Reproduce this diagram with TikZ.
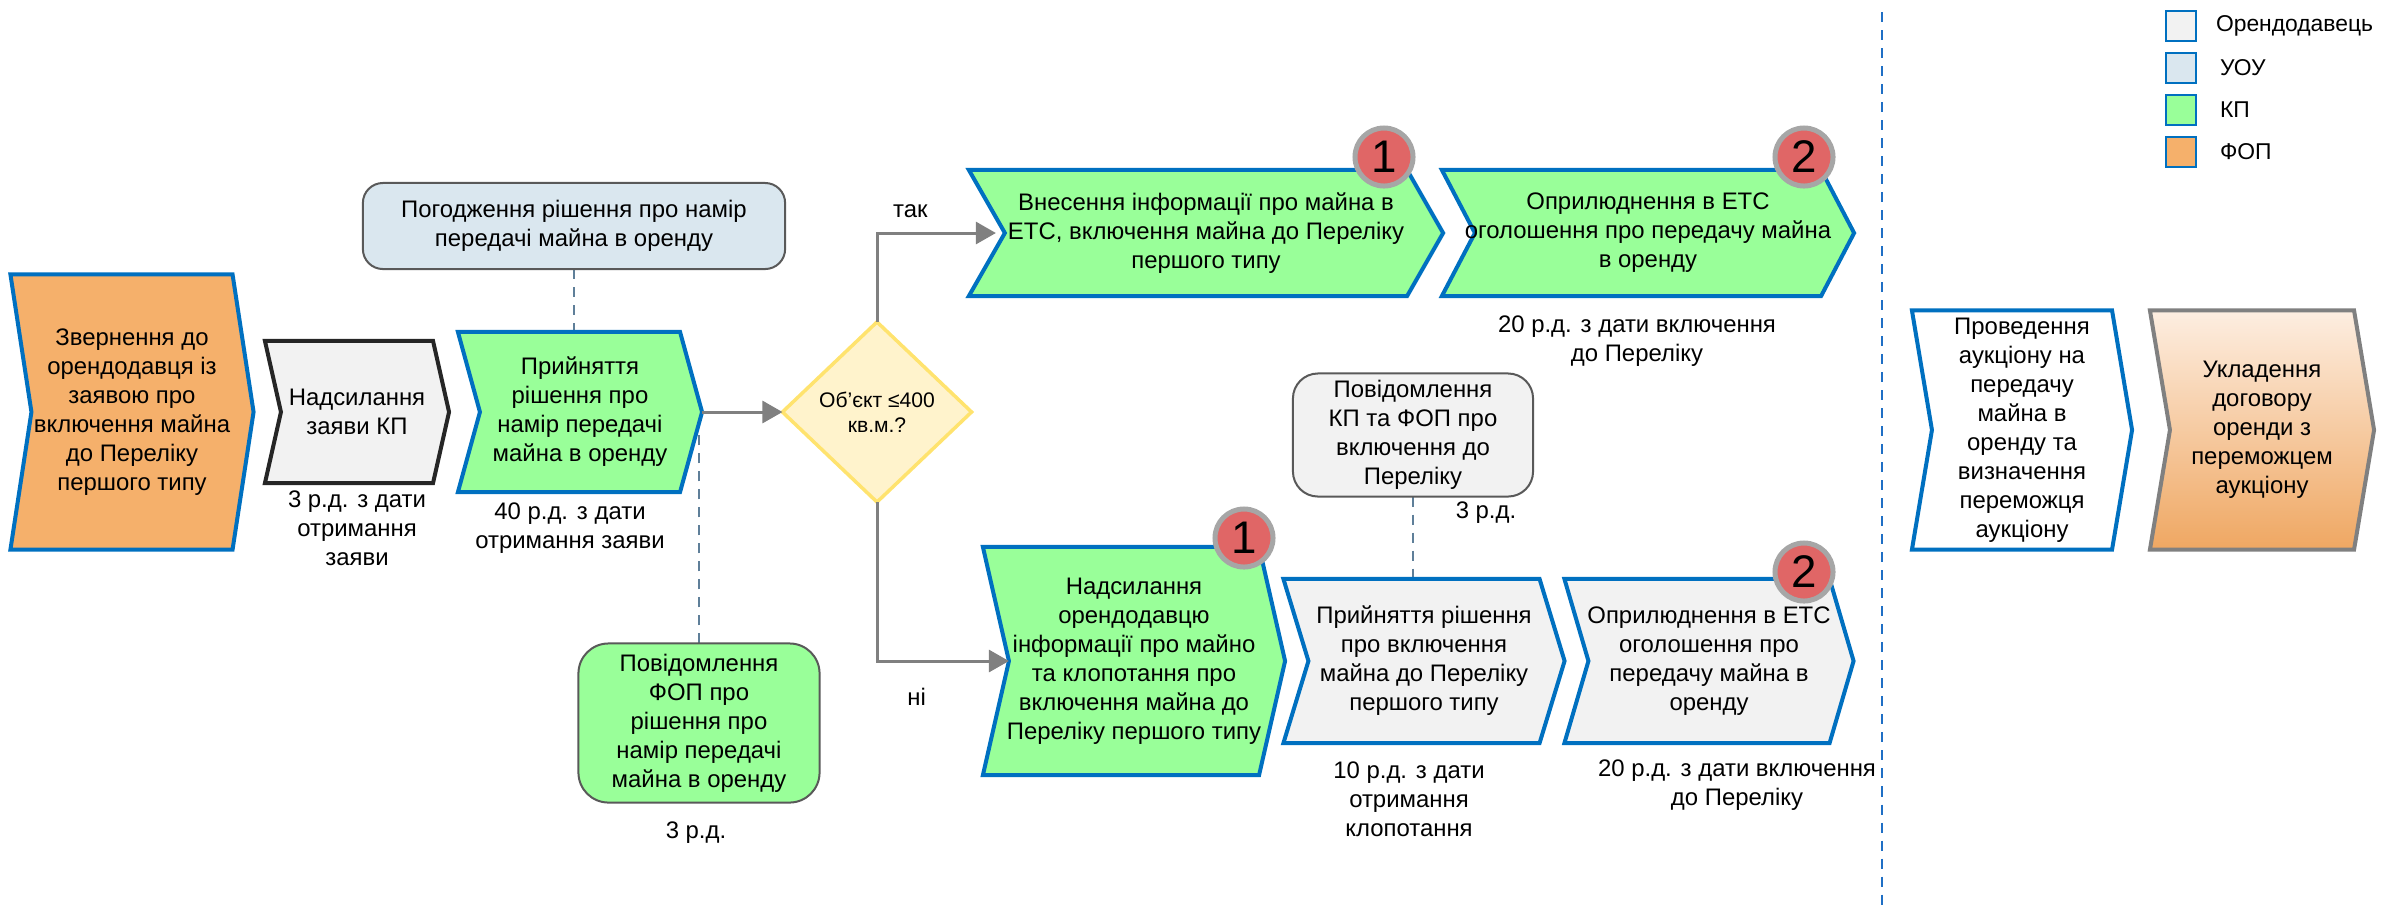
\documentclass[tikz,border=0pt]{standalone}
\usepackage{fontspec}
\setmainfont{Liberation Sans}
\usetikzlibrary{shapes.geometric,arrows.meta,backgrounds}

\definecolor{kpgreen}{HTML}{99FF99}
\definecolor{fopor}{HTML}{F5B06B}
\definecolor{llgrey}{HTML}{F2F2F2}
\definecolor{uoublue}{HTML}{DAE7EF}
\definecolor{edgeblue}{HTML}{0070C0}
\definecolor{flowgrey}{HTML}{808080}
\definecolor{boxrim}{HTML}{595959}
\definecolor{linkgrey}{HTML}{5F7F99}
\definecolor{ynfill}{HTML}{FFF3CC}
\definecolor{ynedge}{HTML}{FFE36E}
\definecolor{badgered}{HTML}{E06666}
\definecolor{badgeedge}{HTML}{A6A6A6}
\definecolor{dealtop}{HTML}{FDEEE1}
\definecolor{dealbot}{HTML}{EFA762}
\definecolor{splitblue}{HTML}{1F6FC5}

\tikzset{
  every node/.style={font=\fontsize{6.8}{8.25}\selectfont, align=center, inner sep=0pt, outer sep=0pt},
  stepbox/.style 2 args={minimum width=#1, minimum height=#2},
  chev/.style 2 args={insert path={(#1.north west) -- ([xshift=-#2]#1.north east) -- (#1.east)
      -- ([xshift=-#2]#1.south east) -- (#1.south west) -- ([xshift=#2]#1.west) -- cycle}},
  bluerim/.style={draw=edgeblue, line width=0.04cm},
  roundbox/.style={draw=boxrim, line width=0.02cm, rounded corners=0.2cm},
  decision/.style={diamond, draw=ynedge, fill=ynfill, line width=0.035cm,
    minimum width=1.89cm, minimum height=1.8cm, font=\fontsize{6}{7.1}\selectfont},
  badge/.style={circle, fill=badgered, draw=badgeedge, line width=0.05cm,
    minimum size=0.58cm, font=\fontsize{13}{13}\selectfont},
  flow/.style={draw=flowgrey, line width=0.03cm, -{Triangle[length=0.2cm, width=0.22cm]}},
  link/.style={draw=linkgrey, line width=0.015cm, dash pattern=on 0.1cm off 0.08cm},
  legbox/.style={draw=edgeblue, line width=0.02cm, minimum size=0.3cm},
  legtext/.style={anchor=west, font=\fontsize{6.5}{8}\selectfont}
}

\begin{document}
\begin{tikzpicture}[x=0.01cm, y=-0.01cm]
  \useasboundingbox (0,0) rectangle (2384,911);

  % first steps
  \node[stepbox={2.43cm}{2.75cm}] (apply) at (132,412) {Звернення до\\орендодавця із\\заявою про\\включення майна\\до Переліку\\першого типу};
  \node[stepbox={1.84cm}{1.42cm}] (send) at (357,412) {Надсилання\\заяви КП};
  \node[stepbox={2.44cm}{1.60cm}] (accept) at (580,412) {Прийняття\\рішення про\\намір передачі\\майна в оренду};
  \node[roundbox, fill=uoublue, stepbox={4.22cm}{0.86cm}] (agree) at (574,226) {Погодження рішення про намір\\передачі майна в оренду};
  \node[roundbox, fill=kpgreen, stepbox={2.41cm}{1.59cm}, rounded corners=0.3cm] (fopmsg) at (699,723) {Повідомлення\\ФОП про\\рішення про\\намір передачі\\майна в оренду};
  \node[decision] (obj) at (877,412) {Об’єкт ≤400\\кв.м.?};

  % upper branch
  \node[stepbox={4.74cm}{1.26cm}] (etsup) at (1206,233) {Внесення інформації про майна в\\ЕТС, включення майна до Переліку\\першого типу};
  \node[stepbox={4.12cm}{1.26cm}] (publup) at (1648,233) {Оприлюднення в ЕТС\\оголошення про передачу майна\\в оренду};

  % lower branch
  \node[stepbox={3.02cm}{2.28cm}] (sendlow) at (1134,661) {Надсилання\\орендодавцю\\інформації про майно\\та клопотання про\\включення майна до\\Переліку першого типу};
  \node[roundbox, fill=llgrey, stepbox={2.40cm}{1.23cm}, rounded corners=0.25cm] (kpmsg) at (1413,435) {Повідомлення\\КП та ФОП про\\включення до\\Переліку};
  \node[stepbox={2.81cm}{1.64cm}] (decide) at (1424,661) {Прийняття рішення\\про включення\\майна до Переліку\\першого типу};
  \node[stepbox={2.89cm}{1.64cm}] (publlow) at (1709,661) {Оприлюднення в ЕТС\\оголошення про\\передачу майна в\\оренду};

  % after the split
  \node[stepbox={2.20cm}{2.39cm}] (auction) at (2022,430) {Проведення\\аукціону на\\передачу\\майна в\\оренду та\\визначення\\переможця\\аукціону};
  \node[stepbox={2.24cm}{2.39cm}] (deal) at (2262,430) {Укладення\\договору\\оренди з\\переможцем\\аукціону};

  % terms
  \node (t1) at (357,528) {3 р.д. з дати\\отримання\\заяви};
  \node (t2) at (570,528) {40 р.д. з дати\\отримання заяви};
  \node (t3) at (696,833) {3 р.д.};
  \node (t4) at (1637,341) {20 р.д. з дати включення\\до Переліку};
  \node (t5) at (1486,513) {3 р.д.};
  \node (t6) at (1409,799) {10 р.д. з дати\\отримання\\клопотання};
  \node (t7) at (1737,785) {20 р.д. з дати включення\\до Переліку};

  \begin{scope}[on background layer]
    \draw[link] (agree.south) -- (agree.south |- accept.north);
    \draw[link] (fopmsg.north) -- (fopmsg.north |- accept.east);
    \draw[link] (kpmsg.south) -- (kpmsg.south |- decide.north);
    \draw[bluerim, fill=fopor] [chev={apply}{0.21cm}];
    \draw[draw=black!85, line width=0.04cm, fill=llgrey] [chev={send}{0.16cm}];
    \draw[bluerim, fill=kpgreen] [chev={accept}{0.22cm}];
    \draw[bluerim, fill=kpgreen] [chev={etsup}{0.36cm}];
    \draw[bluerim, fill=kpgreen] [chev={publup}{0.33cm}];
    \draw[bluerim, fill=kpgreen] [chev={sendlow}{0.26cm}];
    \draw[bluerim, fill=llgrey] [chev={decide}{0.25cm}];
    \draw[bluerim, fill=llgrey] [chev={publlow}{0.24cm}];
    \draw[bluerim, fill=white] [chev={auction}{0.20cm}];
    \draw[draw=flowgrey, line width=0.04cm, top color=dealtop, bottom color=dealbot] [chev={deal}{0.20cm}];
  \end{scope}

  \draw[flow] (accept.east) -- (obj.west);
  \draw[flow] (obj.north) |- ([xshift=0.27cm]etsup.west) node[pos=0.64, above=0.15cm] {так};
  \draw[flow] (obj.south) |- ([xshift=0.26cm]sendlow.west) node[pos=0.65, below=0.27cm] {ні};

  \node[badge] (b1) at (1384,157) {1};
  \node[badge] (b2) at (1804,157) {2};
  \node[badge] (b3) at (1244,538) {1};
  \node[badge] (b4) at (1804,572) {2};

  \draw[draw=splitblue, line width=0.025cm, dash pattern=on 0.1cm off 0.08cm] (1882,12) -- (1882,911);

  % legend
  \node[legbox, fill=llgrey] (l1) at (2181,26) {};
  \node[legbox, fill=uoublue] (l2) at (2181,68) {};
  \node[legbox, fill=kpgreen] (l3) at (2181,110) {};
  \node[legbox, fill=fopor] (l4) at (2181,152) {};
  \node[legtext] (n1) at (2216,26) {Орендодавець};
  \node[legtext] (n2) at (2220,68) {УОУ};
  \node[legtext] (n3) at (2220,110) {КП};
  \node[legtext] (n4) at (2220,152) {ФОП};
\end{tikzpicture}
\end{document}
